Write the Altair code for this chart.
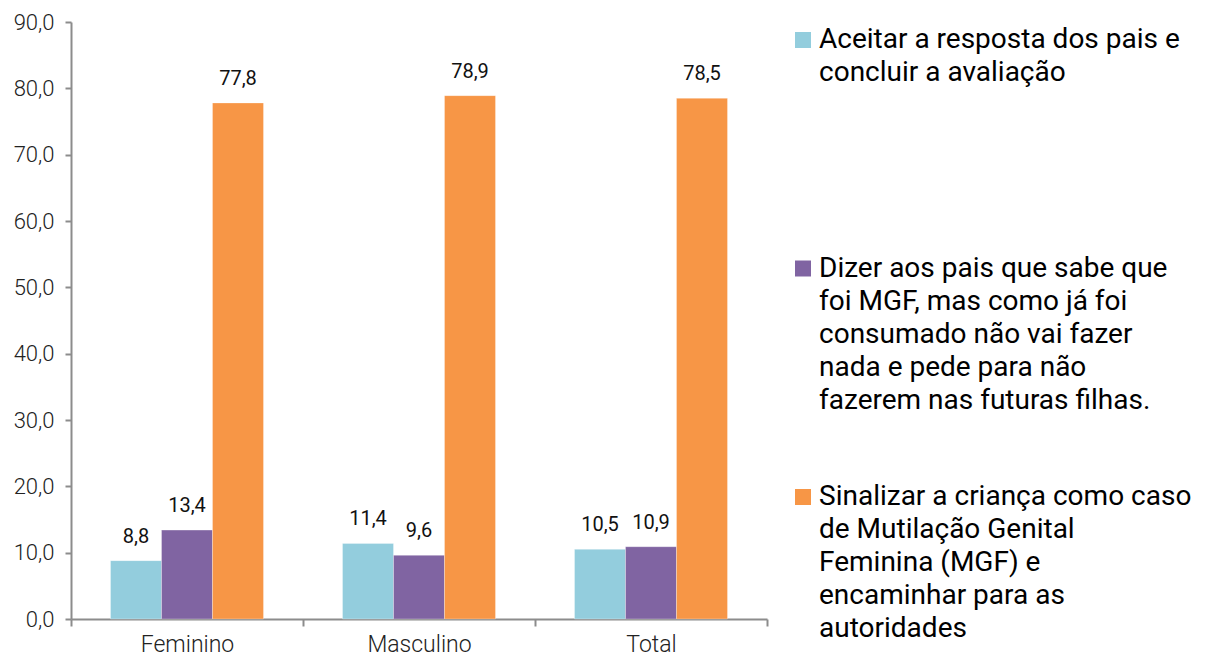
import altair as alt
import pandas as pd

categories = ["Feminino", "Masculino", "Total"]
series = [
    "Aceitar a resposta dos pais e concluir a avaliação",
    "Dizer aos pais que sabe que foi MGF, mas como já foi consumado não vai fazer nada e pede para não fazerem nas futuras filhas.",
    "Sinalizar a criança como caso de Mutilação Genital Feminina (MGF) e encaminhar para as autoridades",
]
legend_lines = [
    "Aceitar a resposta dos pais e\nconcluir a avaliação",
    "Dizer aos pais que sabe que\nfoi MGF, mas como já foi\nconsumado não vai fazer\nnada e pede para não\nfazerem nas futuras filhas.",
    "Sinalizar a criança como caso\nde Mutilação Genital\nFeminina (MGF) e\nencaminhar para as\nautoridades",
]
aceitar = [8.8, 11.4, 10.5]
dizer = [13.4, 9.6, 10.9]
sinalizar = [77.8, 78.9, 78.5]
colors = ["#93CDDD", "#8064A2", "#F79646"]
y_ticks = [0, 10, 20, 30, 40, 50, 60, 70, 80, 90]

rows = []
for s, vals in zip(series, [aceitar, dizer, sinalizar]):
    for c, v in zip(categories, vals):
        rows.append({"cat": c, "series": s, "value": v})
df = pd.DataFrame(rows)
df_leg = pd.DataFrame({"series": series, "text": legend_lines})

FONT = "Roboto"
color_scale = alt.Scale(domain=series, range=colors)

base = alt.Chart(df).encode(
    x=alt.X(
        "cat:N",
        sort=categories,
        scale=alt.Scale(paddingInner=0, paddingOuter=0),
        axis=alt.Axis(
            title=None, labelAngle=0, tickBand="extent", domainColor="#8c8c8c",
            domainWidth=2, tickColor="#8c8c8c", tickWidth=2, tickSize=7,
            labelFont=FONT, labelFontSize=23, labelFontWeight=300,
            labelColor="#222222", labelPadding=7,
        ),
    ),
    xOffset=alt.XOffset("series:N", sort=series,
                        scale=alt.Scale(paddingInner=0, paddingOuter=0.775)),
    y=alt.Y(
        "value:Q",
        scale=alt.Scale(domain=[0, 90], nice=False),
        axis=alt.Axis(
            title=None, values=y_ticks, grid=False,
            labelExpr="replace(format(datum.value, '.1f'), '.', ',')",
            domainColor="#8c8c8c", domainWidth=2, tickColor="#8c8c8c",
            tickWidth=2, tickSize=6, labelFont=FONT, labelFontSize=22,
            labelFontWeight=300, labelColor="#222222", labelPadding=11,
        ),
    ),
)

bars = base.mark_bar(stroke="white", strokeWidth=0.5, strokeOpacity=0.6).encode(
    color=alt.Color("series:N", scale=color_scale, legend=None)
)
labels = base.transform_calculate(
    lab="replace(format(datum.value, '.1f'), '.', ',')"
).mark_text(baseline="middle", dy=-24, font=FONT, fontSize=20, color="#111111").encode(
    text="lab:N"
)
plot = (bars + labels).properties(width=696, height=597)

leg_y = alt.Y("series:N", sort=series, axis=None,
              scale=alt.Scale(type="point", range=[18, 475], padding=0))
leg_base = alt.Chart(df_leg).encode(y=leg_y)
leg_sym = leg_base.mark_square(size=256, opacity=1).encode(
    x=alt.value(8),
    color=alt.Color("series:N", scale=color_scale, legend=None),
)
leg_txt = leg_base.mark_text(
    align="left", baseline="middle", lineBreak="\n", lineHeight=33,
    font=FONT, fontSize=28, color="#000000",
).encode(x=alt.value(24), text="text:N")
legend = (leg_sym + leg_txt).properties(width=400, height=493)

chart = alt.hconcat(plot, legend, spacing=27).properties(
    padding={"left": 5, "top": 3, "right": 0, "bottom": 0}
).configure_view(stroke=None)

chart.save("out.html", embed_options={"renderer": "svg", "actions": False})
